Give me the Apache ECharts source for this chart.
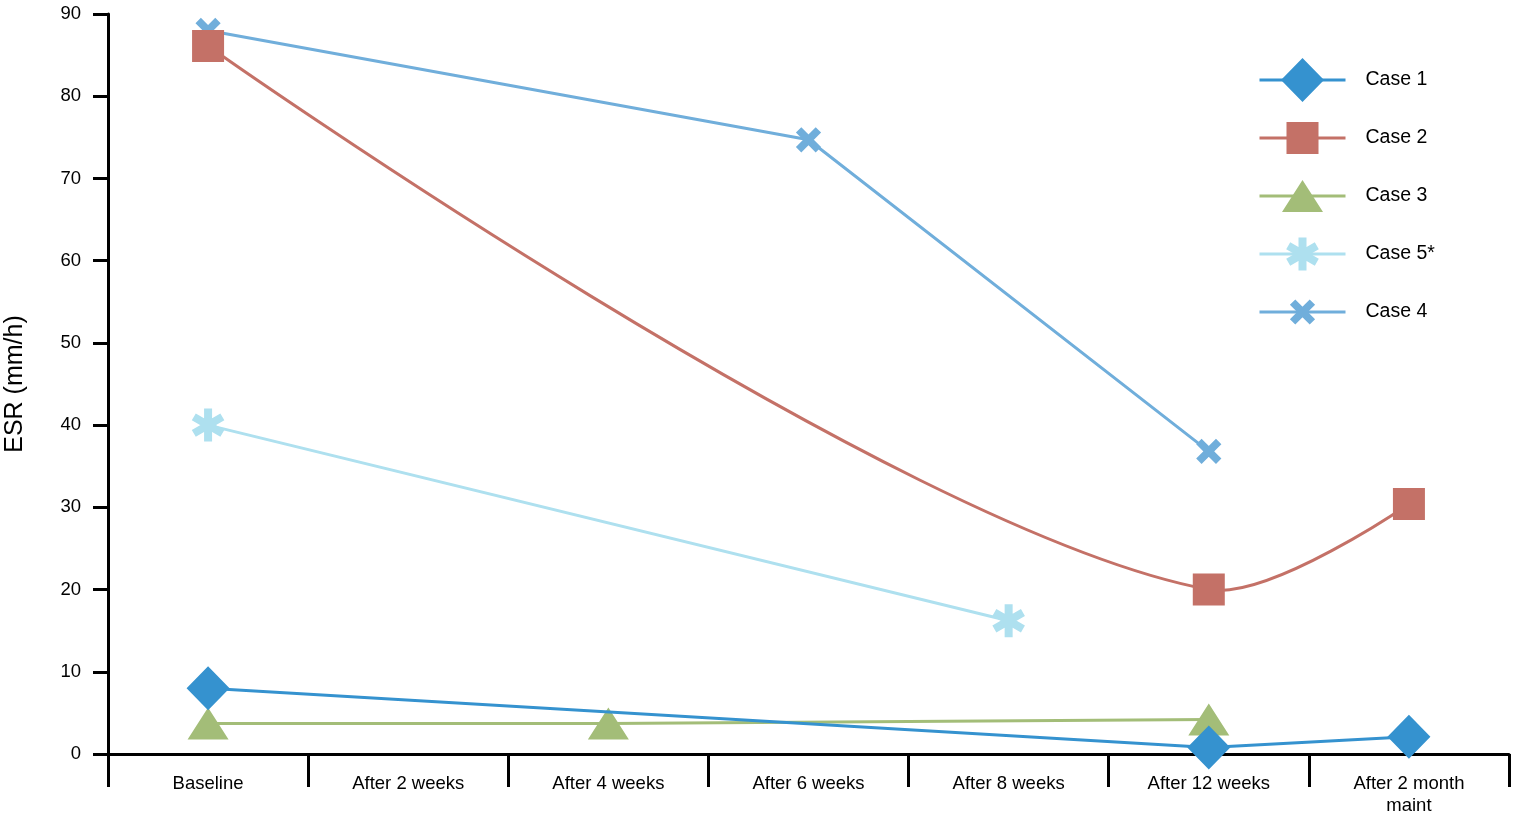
<!DOCTYPE html>
<html><head><meta charset="utf-8">
<script src="https://cdn.jsdelivr.net/npm/echarts@6/dist/echarts.min.js"></script>
<style>html,body{margin:0;padding:0;background:#fff}#c{width:1514px;height:816px}</style>
</head><body><div id="c"></div>
<script>
const categories = ['Baseline','After 2 weeks','After 4 weeks','After 6 weeks','After 8 weeks','After 12 weeks','After 2 month\nmaint'];
const case1 = [8, null, null, null, null, 0.8, 2.1];
const case2 = [86.1, null, null, null, null, 20, 30.4];
const case3 = [3.7, null, 3.7, null, null, 4.2, null];
const case5 = [40, null, null, null, 16.2, null, null];
const case4 = [88, null, null, 74.7, null, 36.8, null];
const yTicks = [0,10,20,30,40,50,60,70,80,90];

// symbol shapes drawn inside a common 44x44 box (tiny corner marks fix the box)
const BOX = ' M0,0L0.01,0L0,0.01Z M44,44L43.99,44L44,43.99Z';
const DIAMOND = 'path://M22,0L43.5,22L22,44L0.5,22Z' + BOX;
const SQUARE = 'path://M6,6L38,6L38,38L6,38Z' + BOX;
const TRIANGLE = 'path://M22,6L42.5,38L1.5,38Z' + BOX;
const ASTERISK = 'path://M18,5.5L26,5.5L26,38.5L18,38.5Z M34.29,10.29L38.29,17.21L9.71,33.71L5.71,26.79Z M38.29,26.79L34.29,33.71L5.71,17.21L9.71,10.29Z' + BOX;
const CROSS = 'path://M29.2,9.4L34.6,14.8L14.8,34.6L9.4,29.2Z M34.6,29.2L29.2,34.6L9.4,14.8L14.8,9.4Z' + BOX;

const font = 'Liberation Sans, Arial, sans-serif';
const C2 = '#c47167';

function smoothSegments(pts){
  const n = pts.length, tan = [], F = 0.28, segs = [];
  for (let i = 0; i < n; i++) {
    if (i === 0 || i === n - 1) { tan.push(null); continue; }
    const a = pts[i-1], b = pts[i], c = pts[i+1];
    const l1 = Math.hypot(b[0]-a[0], b[1]-a[1]), l2 = Math.hypot(c[0]-b[0], c[1]-b[1]);
    const w1 = Math.pow(l1, 0.35), w2 = Math.pow(l2, 0.35);
    const dx = (b[0]-a[0])/l1*w1 + (c[0]-b[0])/l2*w2;
    const dy = (b[1]-a[1])/l1*w1 + (c[1]-b[1])/l2*w2;
    const d = Math.hypot(dx, dy);
    tan.push([dx/d, dy/d]);
  }
  for (let i = 0; i < n - 1; i++) {
    const p = pts[i], q = pts[i+1];
    const L = Math.hypot(q[0]-p[0], q[1]-p[1]);
    const c1 = tan[i] ? [p[0] + tan[i][0]*F*L, p[1] + tan[i][1]*F*L] : p;
    const c2 = tan[i+1] ? [q[0] - tan[i+1][0]*F*L, q[1] - tan[i+1][1]*F*L] : q;
    segs.push({x1:p[0], y1:p[1], cpx1:c1[0], cpy1:c1[1], cpx2:c2[0], cpy2:c2[1], x2:q[0], y2:q[1]});
  }
  return segs;
}

function mk(name, data, color, symbol, z, lineWidth){
  return {name, type:'line', data, connectNulls:true, symbol, symbolSize:44, showSymbol:true, z,
    lineStyle:{color, width: lineWidth}, itemStyle:{color, borderWidth:0},
    emphasis:{disabled:true}, animation:false};
}
const chart = echarts.init(document.getElementById('c'));
chart.setOption({
  animation:false,
  grid:{left:108, right:5, top:14, bottom:62, containLabel:false, outerBoundsMode:'none'},
  legend:{orient:'vertical', left:1258, top:58, padding:0, itemWidth:86, itemHeight:55, itemGap:14,
    data:['Case 1','Case 2','Case 3','Case 5*','Case 4'],
    lineStyle:{width:3},
    textStyle:{fontFamily:font, fontSize:19.5, color:'#000', padding:[0,0,0,15]}},
  xAxis:{type:'category', data:categories, boundaryGap:true,
    axisLine:{lineStyle:{color:'#000', width:3}},
    axisTick:{show:true, length:33, lineStyle:{color:'#000', width:3}},
    axisLabel:{margin:19, color:'#000', fontSize:18.5, fontFamily:font, interval:0, lineHeight:22}},
  yAxis:{type:'value', min:0, max:90, interval:10,
    name:'ESR (mm/h)', nameLocation:'middle', nameGap:80,
    nameTextStyle:{fontFamily:font, fontSize:25, color:'#000'},
    axisLine:{show:true, lineStyle:{color:'#000', width:3}},
    axisTick:{show:true, length:15, lineStyle:{color:'#000', width:3}},
    axisLabel:{margin:27, color:'#000', fontSize:18.5, fontFamily:font,
      formatter:v=>yTicks.includes(v)?String(v):''},
    splitLine:{show:false}},
  series:[
    mk('Case 1', case1, '#3592cf', DIAMOND, 4, 3),
    {type:'custom', coordinateSystem:'cartesian2d', data:[[0, case2[0]]], z:4, silent:true, clip:false,
      renderItem:(params, api)=>{
        const pts = [];
        case2.forEach((v,i)=>{ if (v != null) pts.push(api.coord([i, v])); });
        return {type:'group', children: smoothSegments(pts).map(s=>({type:'bezierCurve', shape:s,
          style:{stroke:C2, lineWidth:3, fill:null}}))};
      }},
    mk('Case 2', case2, C2, SQUARE, 4, 0),
    mk('Case 3', case3, '#a3bd78', TRIANGLE, 2, 3),
    mk('Case 5*', case5, '#aee0ef', ASTERISK, 3, 3),
    mk('Case 4', case4, '#70aedb', CROSS, 1, 3)
  ]
});
</script></body></html>
